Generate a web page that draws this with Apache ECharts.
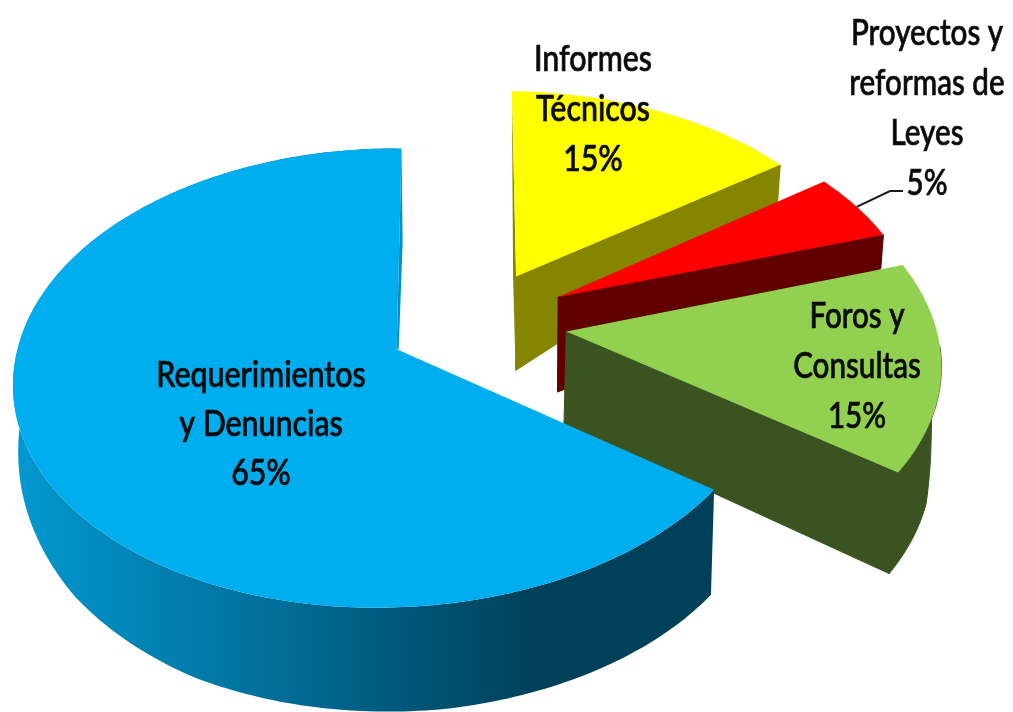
<!DOCTYPE html>
<html><head><meta charset="utf-8">
<style>html,body{margin:0;padding:0;background:#fff}#c{width:1013px;height:712px}</style>
<script src="https://cdn.jsdelivr.net/npm/echarts@6/dist/echarts.min.js"></script>
</head><body><div id="c"></div>
<script>
// ---- data, clockwise from 12 o'clock ----
const categories = ['Informes Técnicos', 'Proyectos y reformas de Leyes', 'Foros y Consultas', 'Requerimientos y Denuncias'];
const shares = [15, 5, 15, 65];
const shareLabels = ['15%', '5%', '15%', '65%'];
const labelLines = [['Informes', 'Técnicos'], ['Proyectos y', 'reformas de', 'Leyes'], ['Foros y', 'Consultas'], ['Requerimientos', 'y Denuncias']];

// ---- look ----
const topColors = ['#FFFF00', '#FF0000', '#92D050', '#00AEEF'];
const wallColors = ['#858500', '#600000', '#3B5320', '#004560'];
const cam = {x0: 477, y0: 326, A: 219, B: 369, k: 0.123, m: 0.02};
const explode = [0.24, 0.245, 0.245, 0.24];
const radius = [1.0, 1.01, 1.03, 1.0];
const radiusLeft = [1.0, 1.0, 1.0, 0.985];
const backShear = [0, 0, 0, 4];
const nudge = [[0, -4], [2, -5], [0, -3], [0, -1]];
// wall depth in px along each slice's arc: [share of slice 0..1, depth]
const depthAt = [
  {apex: 94, arc: [[0, 0], [1, 37]], lean: 0.008, from: 1},
  {apex: 95, arc: [[0, 0], [1, 34]], lean: 0.006, from: 1},
  {apex: 93, arc: [[0, 0], [0.4, 0], [0.5, 40], [0.58, 75], [0.68, 98], [1, 101]], lean: 0.02, from: 0.4},
  {apex: 0, arc: [[0, 105], [0.2, 105], [0.35, 100], [0.45, 90], [0.55, 72], [0.62, 58], [0.7, 40], [0.8, 15], [1, 0]], lean: 0.012, from: 0}
];
const labelAnchors = [[593, 59, 50], [927, 33, 50], [857, 316, 50], [261, 375, 49]];
const labelFont = '500 37px Lato, "Open Sans", sans-serif';
const labelScaleX = [0.82, 0.80, 0.80, 0.82];

function project(X, Y) {
  const d = 1 - cam.k * Y + cam.m * X;
  return [cam.x0 + cam.B * X / d, cam.y0 + cam.A * Y / d];
}
function interp(tbl, t) {
  for (let i = 1; i < tbl.length; i++) {
    if (t <= tbl[i][0]) {
      const a = tbl[i - 1], b = tbl[i];
      return a[1] + (b[1] - a[1]) * (t - a[0]) / (b[0] - a[0] || 1);
    }
  }
  return tbl[tbl.length - 1][1];
}
const total = shares.reduce((a, b) => a + b, 0);

function slicePoint(i, a, ox, oy) {
  const s = Math.sin(a), c = Math.cos(a);
  const rx = radius[i] * (s < 0 ? radiusLeft[i] : 1);
  const p = project(ox + rx * s, oy - radius[i] * c);
  return [p[0] + nudge[i][0] - backShear[i] * Math.max(0, c), p[1] + nudge[i][1]];
}

function renderSlice(params, api) {
  const i = api.value(0);
  const share = api.value(1);
  let before = 0;
  for (let j = 0; j < i; j++) before += shares[j];
  const a0 = before / total * 2 * Math.PI;
  const a1 = (before + share) / total * 2 * Math.PI;
  const mid = (a0 + a1) / 2;
  const ox = explode[i] * Math.sin(mid), oy = -explode[i] * Math.cos(mid);
  const ap = project(ox, oy);
  const apex = [ap[0] + nudge[i][0], ap[1] + nudge[i][1]];
  const steps = Math.max(8, Math.round((a1 - a0) * 60));
  const arc = [];
  for (let s = 0; s <= steps; s++) {
    const a = a0 + (a1 - a0) * s / steps;
    arc.push({t: s / steps, p: slicePoint(i, a, ox, oy)});
  }
  const D = depthAt[i];
  const low = (p, d) => [p[0] - D.lean * (p[0] - 450), p[1] + d];
  const children = [];
  const wallFill = i === 3
    ? {type: 'linear', x: 15, y: 0, x2: 540, y2: 0, global: true,
       colorStops: [{offset: 0, color: '#0299D0'}, {offset: 0.5, color: '#016D98'}, {offset: 1, color: '#004059'}]}
    : wallColors[i];

  // curved outer wall
  const vis = arc.filter(o => o.t >= D.from);
  if (vis.length > 1) {
    const upper = vis.map(o => o.p);
    const lower = vis.map(o => low(o.p, interp(D.arc, o.t))).reverse();
    const seam = i === 3 ? {} : {stroke: wallColors[i], lineWidth: 1};
    children.push({type: 'polygon', shape: {points: upper.concat(lower)}, style: Object.assign({fill: wallFill}, seam)});
  }
  // flat cut walls
  const startP = arc[0].p, endP = arc[arc.length - 1].p;
  if (i < 3) {
    children.push({type: 'polygon', shape: {points: [apex, endP,
      low(endP, interp(D.arc, 1)), low(apex, D.apex)]}, style: {fill: wallColors[i], stroke: wallColors[i], lineWidth: 1}});
  }
  if (i === 0) {
    children.push({type: 'polygon', shape: {points: [startP, apex, low(apex, D.apex),
      [apex[0] - 3, apex[1]]]}, style: {fill: wallColors[i]}});
  }
  if (i === 3) {
    children.push({type: 'polygon', shape: {points: [apex, endP, [endP[0] + 1, endP[1] + 95], [apex[0] + 2, apex[1]]]},
      style: {fill: '#0190C6'}});
  }
  // top face
  children.push({type: 'polygon', shape: {points: [apex].concat(arc.map(o => o.p))},
    style: {fill: topColors[i]}});
  return {type: 'group', children};
}

function renderLabel(params, api) {
  const i = api.value(0);
  const [x, y, lh] = labelAnchors[i];
  const lines = labelLines[i].concat([shareLabels[i]]);
  const children = lines.map((t, n) => ({
    type: 'text', x: x, y: y + n * lh, scaleX: labelScaleX[i], scaleY: 1.0,
    style: {text: t, x: 0, y: 0, font: labelFont, fill: '#0a0a0a', stroke: '#0a0a0a', lineWidth: 0.7, align: 'center', verticalAlign: 'middle'}
  }));
  if (i === 1) {
    const mid = (shares[0] + api.value(1) / 2) / total * 2 * Math.PI;
    const ox = explode[i] * Math.sin(mid), oy = -explode[i] * Math.cos(mid);
    const p = slicePoint(i, mid, ox, oy);
    children.push({type: 'polyline', shape: {points: [p, [890, 191], [903, 191]]},
      style: {stroke: '#1a1a1a', lineWidth: 2, fill: 'none'}});
  }
  return {type: 'group', children};
}

const rows = categories.map((c, i) => ({name: c, value: [i, shares[i]]}));
const chart = echarts.init(document.getElementById('c'), null, {renderer: 'canvas'});
chart.setOption({
  animation: false,
  backgroundColor: '#fff',
  series: [
    {type: 'custom', coordinateSystem: 'none', renderItem: renderSlice, data: rows, silent: true, z: 1},
    {type: 'custom', coordinateSystem: 'none', renderItem: renderLabel, data: rows, silent: true, z: 2}
  ]
});
</script></body></html>
